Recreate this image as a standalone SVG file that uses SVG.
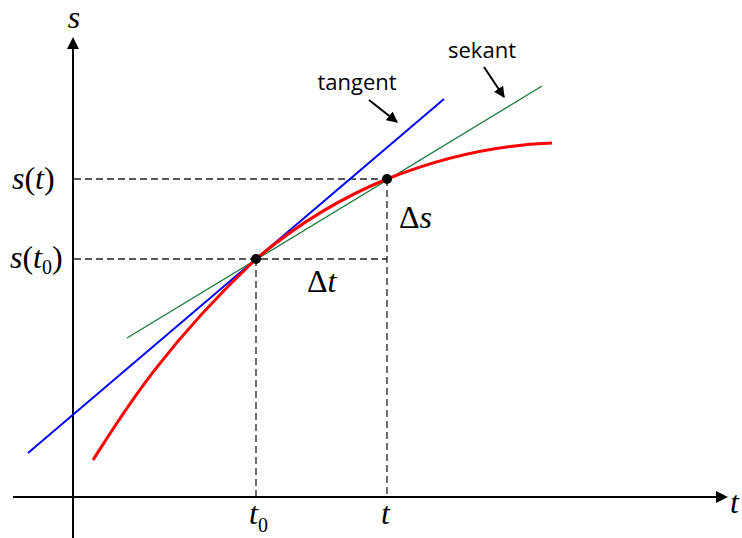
<svg xmlns="http://www.w3.org/2000/svg" width="742" height="538" viewBox="0 0 742 538">
<defs>
<style>
.ax{stroke:#000;stroke-width:2;fill:none}
.dash{stroke:#222;stroke-width:1.3;stroke-dasharray:7 4;fill:none}
.math{font-family:"Liberation Serif","DejaVu Serif","Times New Roman",serif;font-size:32px;fill:#000}
.it{font-style:italic}
.lbl{font-family:"Open Sans","Liberation Sans",sans-serif;font-size:22px;fill:#000}
.ann{stroke:#000;stroke-width:2;fill:none}
</style>
<marker id="ah" viewBox="0 0 10 10" refX="9" refY="5" markerWidth="5.5" markerHeight="5.5" orient="auto" markerUnits="strokeWidth">
<path d="M0,0 L10,5 L0,10 z" fill="#000"/>
</marker>
</defs>
<rect width="742" height="538" fill="#fff"/>
<g id="axes">
<line class="ax" x1="73" y1="538" x2="73" y2="46"/>
<polygon points="73,37 67,49 79,49" fill="#000"/>
<line class="ax" x1="13" y1="497" x2="718" y2="497"/>
<polygon points="728,497 716,491 716,503" fill="#000"/>
<text class="math it" x="74" y="28" text-anchor="middle">s</text>
<text class="math it" x="730" y="513">t</text>
</g>
<g id="guides">
<line class="dash" x1="74" y1="179" x2="387" y2="179"/>
<line class="dash" x1="74" y1="259" x2="387" y2="259"/>
<line class="dash" x1="256" y1="259" x2="256" y2="496"/>
<line class="dash" x1="387" y1="179" x2="387" y2="496"/>
</g>
<g id="connectors">
<line id="tangent-line" x1="28" y1="453" x2="444" y2="99" stroke="#0000ff" stroke-width="2"/>
<line id="sekant-line" x1="127" y1="338" x2="542" y2="86" stroke="#1a7a3a" stroke-width="1.3"/>
<path id="curve" d="M93,460 C120,418 160,350 256,259 C300,222 343,197 387,179 C442,157 497,145 552,143" stroke="#ff0000" stroke-width="3" fill="none"/>
<line class="ann" x1="369" y1="100" x2="397" y2="122" marker-end="url(#ah)"/>
<line class="ann" x1="484" y1="67" x2="504" y2="97" marker-end="url(#ah)"/>
</g>
<g id="p0"><circle cx="256" cy="259" r="5" fill="#000"/></g>
<g id="p1"><circle cx="387" cy="179" r="5" fill="#000"/></g>
<g id="labels">
<text class="math" x="12" y="189"><tspan class="it">s</tspan>(<tspan class="it">t</tspan>)</text>
<text class="math" x="10" y="268"><tspan class="it">s</tspan>(<tspan class="it">t</tspan><tspan font-size="20" dy="6">0</tspan><tspan dy="-6">)</tspan></text>
<text class="math" x="249" y="524"><tspan class="it">t</tspan><tspan font-size="20" dy="8">0</tspan></text>
<text class="math it" x="381" y="524">t</text>
<text class="math" x="399" y="228" font-family="Liberation Serif, serif">Δ<tspan class="it" font-family="Liberation Serif, serif">s</tspan></text>
<text class="math" x="307" y="292" font-family="Liberation Serif, serif">Δ<tspan class="it" font-family="Liberation Serif, serif">t</tspan></text>
<text class="lbl" x="357" y="90" text-anchor="middle">tangent</text>
<text class="lbl" x="482" y="58" text-anchor="middle">sekant</text>
</g>
</svg>
